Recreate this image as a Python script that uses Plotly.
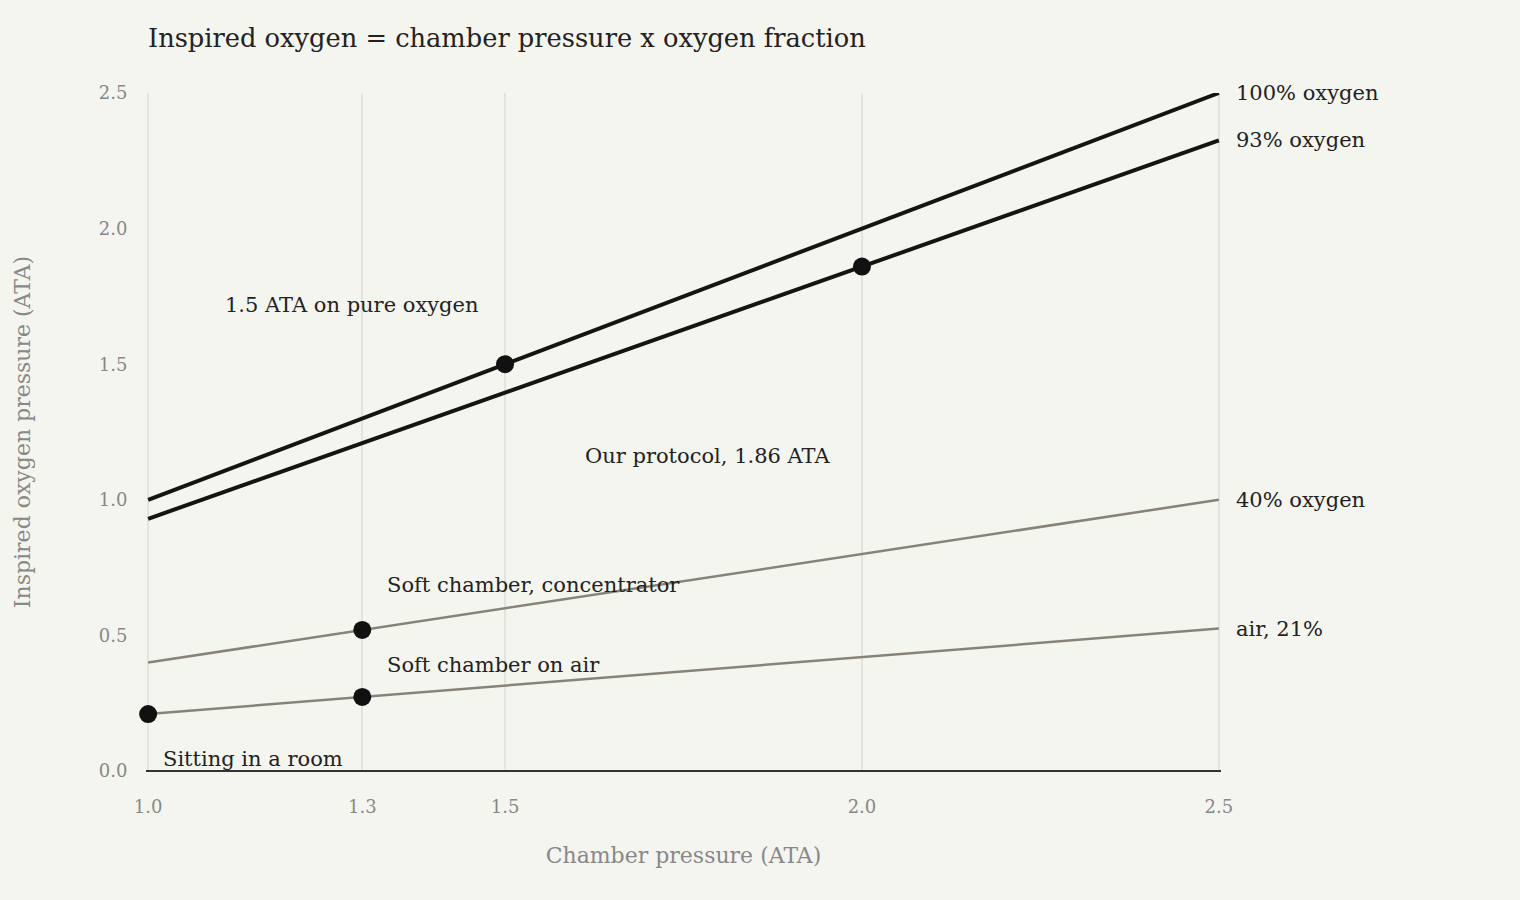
import plotly.graph_objects as go

FONT = "Georgia, 'DejaVu Serif', serif"

# Data
pressure = [1.0, 1.3, 1.5, 2.0, 2.5]
oxy_100 = [1.0, 1.3, 1.5, 2.0, 2.5]
oxy_93 = [0.93, 1.209, 1.395, 1.86, 2.325]
oxy_40 = [0.4, 0.52, 0.6, 0.8, 1.0]
oxy_21 = [0.21, 0.273, 0.315, 0.42, 0.525]

series_names = ["100% oxygen", "93% oxygen", "40% oxygen", "air, 21%"]
series_values = [oxy_100, oxy_93, oxy_40, oxy_21]
series_colors = ["#141410", "#141410", "#878378", "#878378"]
series_widths = [4, 4, 2.5, 2.5]

point_x = [1.5, 2.0, 1.3, 1.3, 1.0]
point_y = [1.5, 1.86, 0.52, 0.273, 0.21]

note_text = ["1.5 ATA on pure oxygen", "Our protocol, 1.86 ATA",
             "Soft chamber, concentrator", "Soft chamber on air", "Sitting in a room"]
note_x = [1.105, 1.609, 1.332, 1.332, 1.018]
note_y = [1.72, 1.16, 0.685, 0.39, 0.045]

tick_x = [1.0, 1.3, 1.5, 2.0, 2.5]
tick_x_text = ["1.0", "1.3", "1.5", "2.0", "2.5"]
tick_y = [0.0, 0.5, 1.0, 1.5, 2.0, 2.5]
tick_y_text = ["0.0", "0.5", "1.0", "1.5", "2.0", "2.5"]

BG = "#f5f5f0"

fig = go.Figure()
for name, vals, col, w in zip(series_names, series_values, series_colors, series_widths):
    fig.add_trace(go.Scatter(x=pressure, y=vals, mode="lines", name=name,
                             line=dict(color=col, width=w), hoverinfo="skip",
                             showlegend=False, cliponaxis=False))

fig.add_trace(go.Scatter(x=point_x, y=point_y, mode="markers", cliponaxis=False,
                         marker=dict(color="#111111", size=18), showlegend=False))

for name, vals in zip(series_names, series_values):
    fig.add_annotation(x=pressure[-1], y=vals[-1], text=name, showarrow=False,
                       xanchor="left", yanchor="middle", xshift=15,
                       font=dict(family=FONT, size=21, color="#222222"))

for t, x, y in zip(note_text, note_x, note_y):
    fig.add_annotation(x=x, y=y, text=t, showarrow=False, xanchor="left",
                       yanchor="middle", font=dict(family=FONT, size=21, color="#222222"))

fig.update_layout(
    width=1520, height=900,
    paper_bgcolor=BG, plot_bgcolor=BG,
    margin=dict(l=146, r=299, t=93, b=129),
    title=dict(text="Inspired oxygen = chamber pressure x oxygen fraction",
               x=148 / 1520, xanchor="left", y=1 - 38 / 900, yanchor="middle",
               font=dict(family=FONT, size=25.7, color="#222222")),
    font=dict(family=FONT),
    showlegend=False,
)
fig.update_xaxes(range=[0.997, 2.503], tickvals=tick_x, ticktext=tick_x_text,
                 showgrid=True, gridcolor="#e4e3dd", gridwidth=1.5,
                 zeroline=False, showline=False, ticks="outside", ticklen=19, tickcolor=BG,
                 tickfont=dict(family=FONT, size=18, color="#888888"),
                 title=dict(text="Chamber pressure (ATA)", standoff=32,
                            font=dict(family=FONT, size=22, color="#888888")))
fig.update_yaxes(range=[0, 2.5], tickvals=tick_y, ticktext=tick_y_text,
                 showgrid=False, zeroline=True, zerolinecolor="#333333", zerolinewidth=2,
                 showline=False, ticks="outside", ticklen=14, tickcolor=BG,
                 tickfont=dict(family=FONT, size=18, color="#888888"),
                 title=dict(text="Inspired oxygen pressure (ATA)", standoff=62,
                            font=dict(family=FONT, size=22, color="#888888")))

fig.write_html("out.html", config={"displayModeBar": False},
               post_script="document.body.style.margin='0';")
